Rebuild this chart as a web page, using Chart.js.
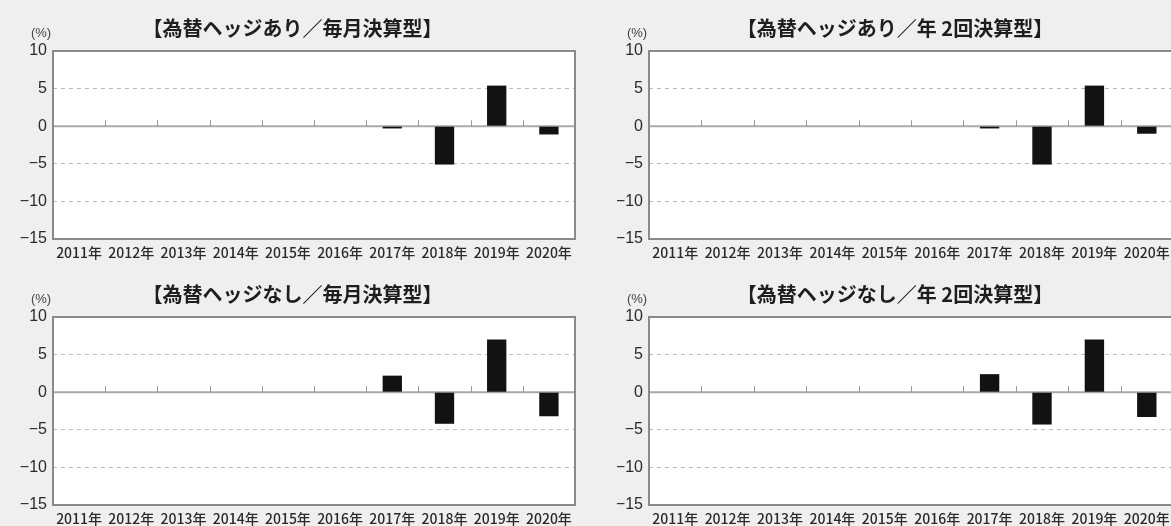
<!DOCTYPE html>
<html>
<head>
<meta charset="utf-8">
<script src="https://cdn.jsdelivr.net/npm/chart.js@4.4.1/dist/chart.umd.min.js"></script>
<style>
html,body{margin:0;padding:0;background:#efefef;width:1171px;height:526px;overflow:hidden;}
.box{position:absolute;}
canvas{display:block;}
</style>
</head>
<body>
<div class="box" style="left:0;top:0;"><canvas id="c1" width="585" height="263"></canvas></div>
<div class="box" style="left:585px;top:0;"><canvas id="c2" width="620" height="263"></canvas></div>
<div class="box" style="left:0;top:266px;"><canvas id="c3" width="585" height="263"></canvas></div>
<div class="box" style="left:585px;top:266px;"><canvas id="c4" width="620" height="263"></canvas></div>
<script>
// ---- data ----
const categories = ['2011年','2012年','2013年','2014年','2015年','2016年','2017年','2018年','2019年','2020年'];
const hedgedMonthly     = [null,null,null,null,null,null,-0.3,-5.1,5.4,-1.1];
const hedgedSemiannual  = [null,null,null,null,null,null,-0.3,-5.1,5.4,-1.0];
const unhedgedMonthly   = [null,null,null,null,null,null,2.2,-4.2,7.0,-3.2];
const unhedgedSemiannual= [null,null,null,null,null,null,2.4,-4.3,7.0,-3.3];
const yMin = -15, yMax = 10, yStep = 5;
const unitLabel = '(%)';
const titles = ['【為替ヘッジあり／毎月決算型】','【為替ヘッジあり／年 2回決算型】','【為替ヘッジなし／毎月決算型】','【為替ヘッジなし／年 2回決算型】'];

const framePlugin = {
  id: 'frame',
  beforeDraw(chart) {
    const {ctx, chartArea: a} = chart;
    ctx.save();
    ctx.fillStyle = '#ffffff';
    ctx.fillRect(a.left, a.top, a.right - a.left, a.bottom - a.top);
    ctx.restore();
  },
  beforeDatasetsDraw(chart) {
    const {ctx, chartArea: a, scales: {x, y}} = chart;
    const zy = y.getPixelForValue(0);
    ctx.save();
    ctx.strokeStyle = '#a8a8a8';
    ctx.lineWidth = 2;
    ctx.beginPath();
    ctx.moveTo(a.left, zy);
    ctx.lineTo(a.right, zy);
    ctx.stroke();
    ctx.lineWidth = 1;
    ctx.strokeStyle = '#9a9a9a';
    for (let i = 1; i < categories.length; i++) {
      const bx = Math.round((x.getPixelForTick(i - 1) + x.getPixelForTick(i)) / 2) + 0.5;
      ctx.beginPath();
      ctx.moveTo(bx, zy);
      ctx.lineTo(bx, zy - 6);
      ctx.stroke();
    }
    ctx.restore();
  },
  afterDraw(chart) {
    const {ctx, chartArea: a} = chart;
    ctx.save();
    ctx.strokeStyle = '#8a8a8a';
    ctx.lineWidth = 2;
    ctx.strokeRect(a.left, a.top, a.right - a.left, a.bottom - a.top);
    ctx.fillStyle = '#444';
    ctx.font = '13px "Liberation Sans", Arial, sans-serif';
    ctx.textAlign = 'center';
    ctx.textBaseline = 'middle';
    ctx.fillText(unitLabel, a.left - 12, a.top - 18);
    ctx.restore();
  }
};

function makeChart(id, title, values, sidePad, yWidth) {
  return new Chart(document.getElementById(id), {
    type: 'bar',
    data: {
      labels: categories,
      datasets: [{
        data: values,
        backgroundColor: '#121212',
        borderWidth: 0,
        categoryPercentage: 1,
        barPercentage: 0.37
      }]
    },
    options: {
      responsive: false,
      animation: false,
      devicePixelRatio: 1,
      layout: {padding: {left: sidePad, right: sidePad, top: 0, bottom: 0}},
      plugins: {
        legend: {display: false},
        tooltip: {enabled: false},
        title: {
          display: true,
          text: title,
          color: '#1e1e1e',
          font: {family: '"Noto Sans CJK JP", sans-serif', size: 20, weight: 'bold', lineHeight: 1.2},
          padding: {top: 16, bottom: 11}
        }
      },
      scales: {
        x: {
          type: 'category',
          offset: true,
          grid: {display: false, drawTicks: false},
          border: {display: false},
          ticks: {
            color: '#2a2a2a',
            font: {family: '"Noto Sans CJK JP", sans-serif', size: 14, weight: '500'},
            padding: 5,
            maxRotation: 0,
            autoSkip: false
          },
          afterFit(s) { s.height = 24; }
        },
        y: {
          min: yMin,
          max: yMax,
          grid: {
            drawTicks: false,
            color: (c) => (c.tick && (c.tick.value === 0 || c.tick.value === yMax || c.tick.value === yMin)) ? 'rgba(0,0,0,0)' : '#b9b9b9',
            lineWidth: 1
          },
          border: {display: false, dash: [4, 4]},
          ticks: {
            stepSize: yStep,
            color: '#2a2a2a',
            padding: 6,
            font: {family: '"Liberation Sans", Arial, sans-serif', size: 16},
            callback: (v) => (v < 0 ? '\u2212' + Math.abs(v) : String(v))
          },
          afterFit(s) { s.width = yWidth; }
        }
      }
    },
    plugins: [framePlugin]
  });
}

makeChart('c1', titles[0], hedgedMonthly, 10, 43);
makeChart('c2', titles[1], hedgedSemiannual, 32, 32);
makeChart('c3', titles[2], unhedgedMonthly, 10, 43);
makeChart('c4', titles[3], unhedgedSemiannual, 32, 32);
</script>
</body>
</html>
